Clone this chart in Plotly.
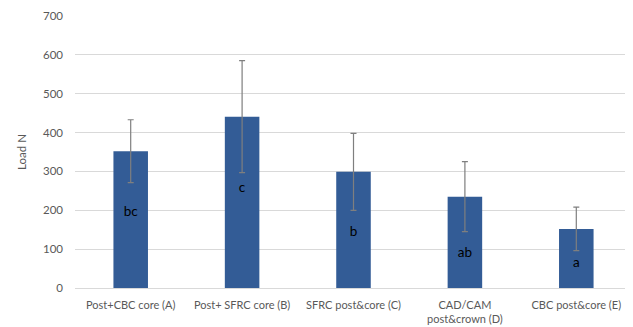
import plotly.graph_objects as go

categories = ["Post+CBC core (A)", "Post+ SFRC core (B)", "SFRC post&core (C)",
              "CAD/CAM<br>post&crown (D)", "CBC post&core (E)"]
means = [352, 441, 299, 235, 152]
sds = [81, 144, 99, 90, 56]
letters = ["bc", "c", "b", "ab", "a"]
letter_y = [193, 255, 143, 89, 62]
y_ticks = [0, 100, 200, 300, 400, 500, 600, 700]

FONT = "Lato, Carlito, sans-serif"

fig = go.Figure()
fig.add_trace(go.Bar(
    x=categories, y=means,
    marker=dict(color="#335C96", line=dict(width=0)),
    error_y=dict(type="data", array=sds, visible=True, color="#7f7f7f",
                 thickness=1.2, width=3),
    showlegend=False,
))
fig.add_trace(go.Scatter(
    x=categories, y=letter_y, mode="text", text=letters,
    textfont=dict(family=FONT, size=13.5, color="#000000"),
    showlegend=False, hoverinfo="skip",
))

# page body has an 8px default margin; compensate so plot area sits at x 75-632, y 16-288
fig.update_layout(
    width=625, height=319,
    margin=dict(l=67, r=1, t=8, b=38.5),
    plot_bgcolor="white", paper_bgcolor="white",
    bargap=0.69,
    font=dict(family=FONT, size=11, color="#595959"),
    xaxis=dict(showgrid=False, showline=False, ticks="", ticklen=0,
               automargin=False, ticklabelstandoff=9,
               tickfont=dict(family=FONT, size=11, color="#595959")),
    yaxis=dict(range=[0, 700], tickvals=y_ticks, showgrid=True,
               gridcolor="#d9d9d9", gridwidth=1, zeroline=True,
               zerolinecolor="#d9d9d9", zerolinewidth=1,
               showline=False, ticks="", ticklen=0, automargin=False,
               ticklabelstandoff=11,
               title=dict(text="Load N", standoff=13,
                          font=dict(family=FONT, size=11.5, color="#595959")),
               tickfont=dict(family=FONT, size=11.5, color="#595959")),
)

fig.write_html("out.html")
